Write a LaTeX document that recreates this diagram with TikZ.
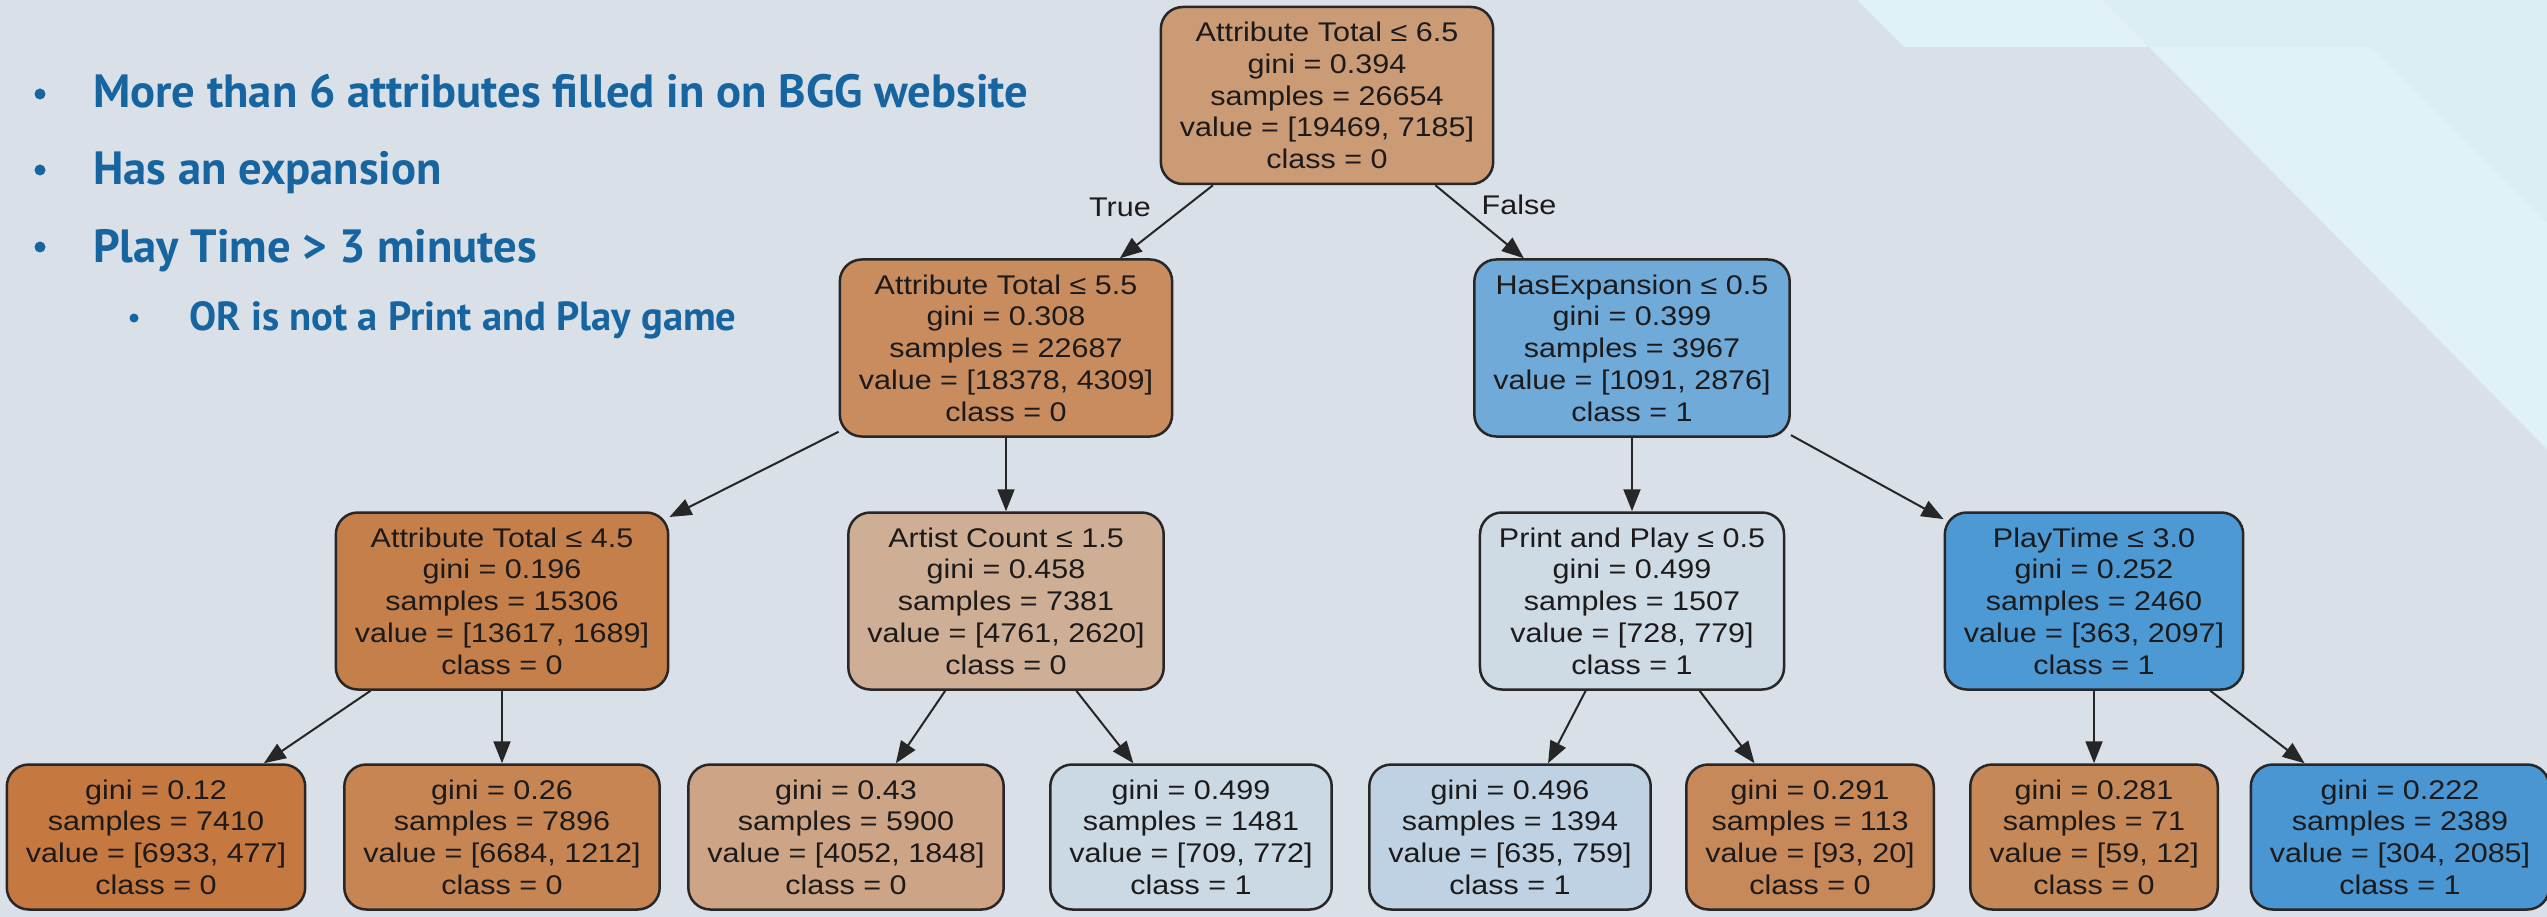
\documentclass[tikz,border=0pt]{standalone}
\usepackage{fontspec}
\usetikzlibrary{arrows.meta}
\newfontfamily\nodefont[FakeStretch=1.13]{Liberation Sans}
\newfontfamily\bulfont{PT Sans}
\definecolor{bgc}{RGB}{217,224,231}
\definecolor{decoA}{RGB}{224,242,246}
\definecolor{decoB}{RGB}{220,238,242}
\definecolor{bulc}{RGB}{22,100,160}
\definecolor{txtc}{RGB}{28,26,26}
\definecolor{brdc}{RGB}{40,38,38}
\definecolor{cRoot}{RGB}{203,155,118}
\definecolor{cA}{RGB}{200,140,94}
\definecolor{cB}{RGB}{112,170,217}
\definecolor{cC}{RGB}{197,127,74}
\definecolor{cD}{RGB}{207,174,150}
\definecolor{cE}{RGB}{206,219,229}
\definecolor{cF}{RGB}{77,153,212}
\definecolor{cLa}{RGB}{197,121,64}
\definecolor{cLb}{RGB}{199,133,84}
\definecolor{cLc}{RGB}{205,164,133}
\definecolor{cLd}{RGB}{203,217,229}
\definecolor{cLe}{RGB}{190,210,227}
\definecolor{cLf}{RGB}{200,137,90}
\definecolor{cLg}{RGB}{199,136,88}
\definecolor{cLh}{RGB}{73,150,211}
\tikzset{
  tn/.style={draw=brdc, line width=2.5pt, rounded corners=22pt, align=center,
    font=\nodefont\fontsize{27}{31.7}\selectfont, text=txtc,
    minimum height=177pt, inner xsep=19pt, inner ysep=0pt},
  leaf/.style={tn, minimum height=145pt},
  arr/.style={draw=black!85, line width=2pt, -{Triangle[length=22pt,width=17pt]}},
  elab/.style={font=\nodefont\fontsize{27}{31.7}\selectfont, text=txtc, inner sep=0pt},
  bul/.style={font=\bulfont\bfseries\fontsize{46.6}{54}\selectfont, text=bulc, inner sep=0pt, anchor=base west},
  subbul/.style={bul, font=\bulfont\bfseries\fontsize{40.6}{48}\selectfont},
  dot/.style={circle, fill=bulc, inner sep=0pt, minimum size=11pt},
  subdot/.style={dot, minimum size=9pt}
}
\begin{document}
\begin{tikzpicture}[x=1pt,y=-1pt]
\useasboundingbox (0,0) rectangle (2547,917);
\fill[bgc] (0,0) rectangle (2547,917);
% decorative bands
\fill[decoA] (1857,0) -- (2102,0) -- (2149,47) -- (1904,47) -- cycle;
\fill[decoB] (2102,0) -- (2547,0) -- (2547,47) -- (2149,47) -- cycle;
\fill[decoA] (2149,47) -- (2372,47) -- (2547,222) -- (2547,449) -- cycle;
\fill[decoB] (2372,47) -- (2547,47) -- (2547,222) -- cycle;
% bullets
\node[dot] (d1) at (40,94) {};
\node[bul] (t1) at (93,108) {More than 6 attributes filled in on BGG website};
\node[dot] (d2) at (40,170) {};
\node[bul] (t2) at (93,185) {Has an expansion};
\node[dot] (d3) at (40,247) {};
\node[bul] (t3) at (93,262) {Play Time > 3 minutes};
\node[subdot] (d4) at (134,318) {};
\node[subbul] (t4) at (189,330) {OR is not a Print and Play game};
% tree
\node[tn, fill=cRoot] (root) at (1327,95.5) {Attribute Total ≤ 6.5\\gini = 0.394\\samples = 26654\\value = [19469, 7185]\\class = 0};
\node[tn, fill=cA] (A) at (1006,348) {Attribute Total ≤ 5.5\\gini = 0.308\\samples = 22687\\value = [18378, 4309]\\class = 0};
\node[tn, fill=cB] (B) at (1632,348) {HasExpansion ≤ 0.5\\gini = 0.399\\samples = 3967\\value = [1091, 2876]\\class = 1};
\node[tn, fill=cC] (C) at (502,601) {Attribute Total ≤ 4.5\\gini = 0.196\\samples = 15306\\value = [13617, 1689]\\class = 0};
\node[tn, fill=cD] (D) at (1006,601) {Artist Count ≤ 1.5\\gini = 0.458\\samples = 7381\\value = [4761, 2620]\\class = 0};
\node[tn, fill=cE] (E) at (1632,601) {Print and Play ≤ 0.5\\gini = 0.499\\samples = 1507\\value = [728, 779]\\class = 1};
\node[tn, fill=cF] (F) at (2094,601) {PlayTime ≤ 3.0\\gini = 0.252\\samples = 2460\\value = [363, 2097]\\class = 1};
\node[leaf, fill=cLa] (L1) at (156,837) {gini = 0.12\\samples = 7410\\value = [6933, 477]\\class = 0};
\node[leaf, fill=cLb] (L2) at (502,837) {gini = 0.26\\samples = 7896\\value = [6684, 1212]\\class = 0};
\node[leaf, fill=cLc] (L3) at (846,837) {gini = 0.43\\samples = 5900\\value = [4052, 1848]\\class = 0};
\node[leaf, fill=cLd] (L4) at (1191,837) {gini = 0.499\\samples = 1481\\value = [709, 772]\\class = 1};
\node[leaf, fill=cLe] (L5) at (1510,837) {gini = 0.496\\samples = 1394\\value = [635, 759]\\class = 1};
\node[leaf, fill=cLf] (L6) at (1810,837) {gini = 0.291\\samples = 113\\value = [93, 20]\\class = 0};
\node[leaf, fill=cLg] (L7) at (2094,837) {gini = 0.281\\samples = 71\\value = [59, 12]\\class = 0};
\node[leaf, fill=cLh] (L8) at (2400,837) {gini = 0.222\\samples = 2389\\value = [304, 2085]\\class = 1};
% edges
\draw[arr] (root) -- (A);
\draw[arr] (root) -- (B);
\draw[arr] (A) -- (C);
\draw[arr] (A) -- (D);
\draw[arr] (B) -- (E);
\draw[arr] (B) -- (F);
\draw[arr] (C) -- (L1);
\draw[arr] (C) -- (L2);
\draw[arr] (D) -- (L3);
\draw[arr] (D) -- (L4);
\draw[arr] (E) -- (L5);
\draw[arr] (E) -- (L6);
\draw[arr] (F) -- (L7);
\draw[arr] (F) -- (L8);
\node[elab] (lt) at (1120,207) {True};
\node[elab] (lf) at (1519,205) {False};
\end{tikzpicture}
\end{document}
